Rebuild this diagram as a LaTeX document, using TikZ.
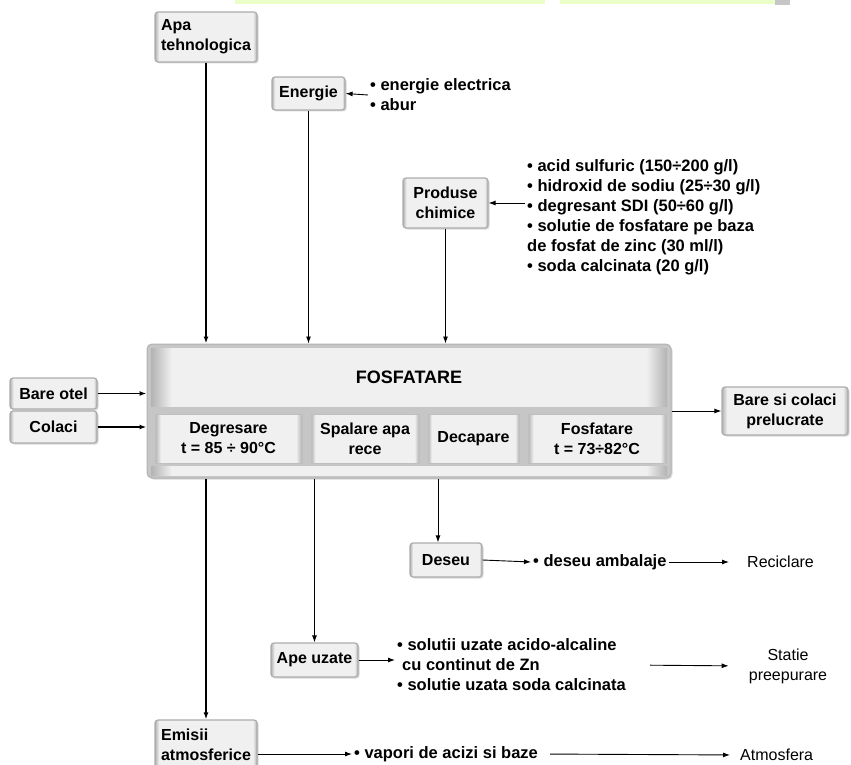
\documentclass[tikz,border=0pt]{standalone}
\usepackage{fontspec}
\setmainfont{Liberation Sans}
\usetikzlibrary{arrows.meta, shadows}

% light panel with dark side edges
\pgfdeclarehorizontalshading{panel}{100bp}{color(0bp)=(gray!60); color(25bp)=(gray!60); color(27bp)=(gray!12); color(73bp)=(gray!12); color(75bp)=(gray!60); color(100bp)=(gray!60)}

\tikzset{
	box/.style = {draw = gray!65, line width = 1.2pt, rounded corners = 3pt, shading = panel,
		drop shadow = {opacity = .3, shadow xshift = 1.5pt, shadow yshift = -1.5pt},
		font = \bfseries\fontsize{16}{20}\selectfont, align = center, inner sep = 2pt},
	mainbox/.style = {draw = gray!60, line width = 1pt, rounded corners = 5pt, fill = gray!45,
		drop shadow = {opacity = .3, shadow xshift = 1.5pt, shadow yshift = -1.5pt}},
	stagebox/.style = {shading = panel, draw = gray!50, line width = .8pt,
		font = \bfseries\fontsize{16}{20}\selectfont, align = center, inner sep = 0pt},
	list/.style = {font = \bfseries\fontsize{16.5}{20}\selectfont, align = left, inner sep = 2pt},
	endtxt/.style = {font = \fontsize{16}{20}\selectfont, align = center, inner sep = 0pt},
	flow/.style = {-{Latex[length = 7pt, width = 5pt]}, line width = .9pt},
	bold flow/.style = {flow, line width = 1.5pt}
}

\begin{document}
\begin{tikzpicture}[x = 1pt, y = -1pt]
	\useasboundingbox (0,0) rectangle (851,765);
	% cut off banner at the top edge
	\fill[green!40!yellow!22] (235,0) rectangle (545,4);
	\fill[green!40!yellow!22] (560,0) rectangle (775,4);
	\fill[gray!45] (775,0) rectangle (790,5);

	% inputs
	\node[box, minimum width = 102pt, minimum height = 50pt, align = left] (apa) at (206,37) {Apa\\tehnologica};
	\node[box, minimum width = 73pt, minimum height = 33pt] (energie) at (308.5,93.5) {Energie};
	\node[list, anchor = west] (enlist) at (368,95) {• energie electrica\\• abur};
	\node[box, minimum width = 85pt, minimum height = 50pt] (produse) at (445.5,203) {Produse\\chimice};
	\node[list, anchor = north west] (chlist) at (525,157) {• acid sulfuric (150÷200 g/l)\\
		• hidroxid de sodiu (25÷30 g/l)\\
		• degresant SDI (50÷60 g/l)\\
		• solutie de fosfatare pe baza\\
		de fosfat de zinc (30 ml/l)\\
		• soda calcinata (20 g/l)};
	\node[box, minimum width = 87pt, minimum height = 31pt] (bare) at (53.5,393.5) {Bare otel};
	\node[box, minimum width = 87pt, minimum height = 32pt] (colaci) at (53.5,427) {Colaci};

	% main process
	\node[mainbox, minimum width = 524pt, minimum height = 134pt] (fosf) at (409,411) {};
	\node[stagebox, draw = none, minimum width = 516pt, minimum height = 58pt, font = \bfseries\fontsize{18}{22}\selectfont] (titlu) at (409,377) {FOSFATARE};
	\node[stagebox, minimum width = 147pt, minimum height = 49pt] (degres) at (228.5,438.5) {Degresare\\t = 85 ÷ 90°C};
	\node[stagebox, minimum width = 108pt, minimum height = 49pt] (spalare) at (365,438.5) {Spalare apa\\rece};
	\node[stagebox, minimum width = 91pt, minimum height = 49pt] (decap) at (473.5,438.5) {Decapare};
	\node[stagebox, minimum width = 138pt, minimum height = 49pt] (fosfat) at (597,438.5) {Fosfatare\\t = 73÷82°C};
	\node[stagebox, draw = none, minimum width = 516pt, minimum height = 9pt] (baza) at (409,471) {};

	% outputs
	\node[box, minimum width = 126pt, minimum height = 48pt] (prel) at (785,411) {Bare si colaci\\prelucrate};
	\node[box, minimum width = 72pt, minimum height = 34pt] (deseu) at (446,560) {Deseu};
	\node[list, anchor = west] (dlist) at (531,562) {• deseu ambalaje};
	\node[endtxt, anchor = west] (recicl) at (747,562) {Reciclare};
	\node[box, minimum width = 87pt, minimum height = 34pt] (ape) at (314.5,660) {Ape uzate};
	\node[list, anchor = west] (alist) at (395,665) {• solutii uzate acido-alcaline\\
		\hspace*{5pt}cu continut de Zn\\
		• solutie uzata soda calcinata};
	\node[endtxt] (statie) at (788,666) {Statie\\preepurare};
	\node[box, minimum width = 102pt, minimum height = 50pt, align = left] (emisii) at (206,745) {Emisii\\atmosferice};
	\node[list, anchor = west] (vlist) at (352,754) {• vapori de acizi si baze};
	\node[endtxt, anchor = west] (atmos) at (740,755) {Atmosfera};
	\coordinate (dtop) at ([xshift = -8pt]deseu.north);

	% connectors
	\draw[bold flow] (apa.south) -- (apa.south |- fosf.north);
	\draw[flow] (energie.south) -- (energie.south |- fosf.north);
	\draw[flow] (enlist.west) -- (energie.east);
	\draw[flow] (produse.south) -- (produse.south |- fosf.north);
	\draw[flow] (chlist.west |- produse.east) -- (produse.east);
	\draw[bold flow] (bare.east) -- (bare.east -| fosf.west);
	\draw[bold flow] (colaci.east) -- (colaci.east -| fosf.west);
	\draw[flow] (fosf.east) -- (prel.west);
	\draw[flow] (dtop |- fosf.south) -- (dtop);
	\draw[flow] (deseu.east) -- (dlist.west);
	\draw[flow, shorten >= 18pt] (dlist.east) -- (recicl.west);
	\draw[flow] (fosf.south -| ape.north) -- (ape.north);
	\draw[flow] (ape.east) -- (ape.east -| alist.west);
	\draw[flow, shorten <= 22pt, shorten >= 20pt] (alist.east) -- (statie.west);
	\draw[bold flow] (fosf.south -| emisii.north) -- (emisii.north);
	\draw[flow] (emisii.east |- vlist.west) -- (vlist.west);
	\draw[flow, shorten <= 10pt, shorten >= 10pt] (vlist.east) -- (atmos.west);
\end{tikzpicture}
\end{document}
